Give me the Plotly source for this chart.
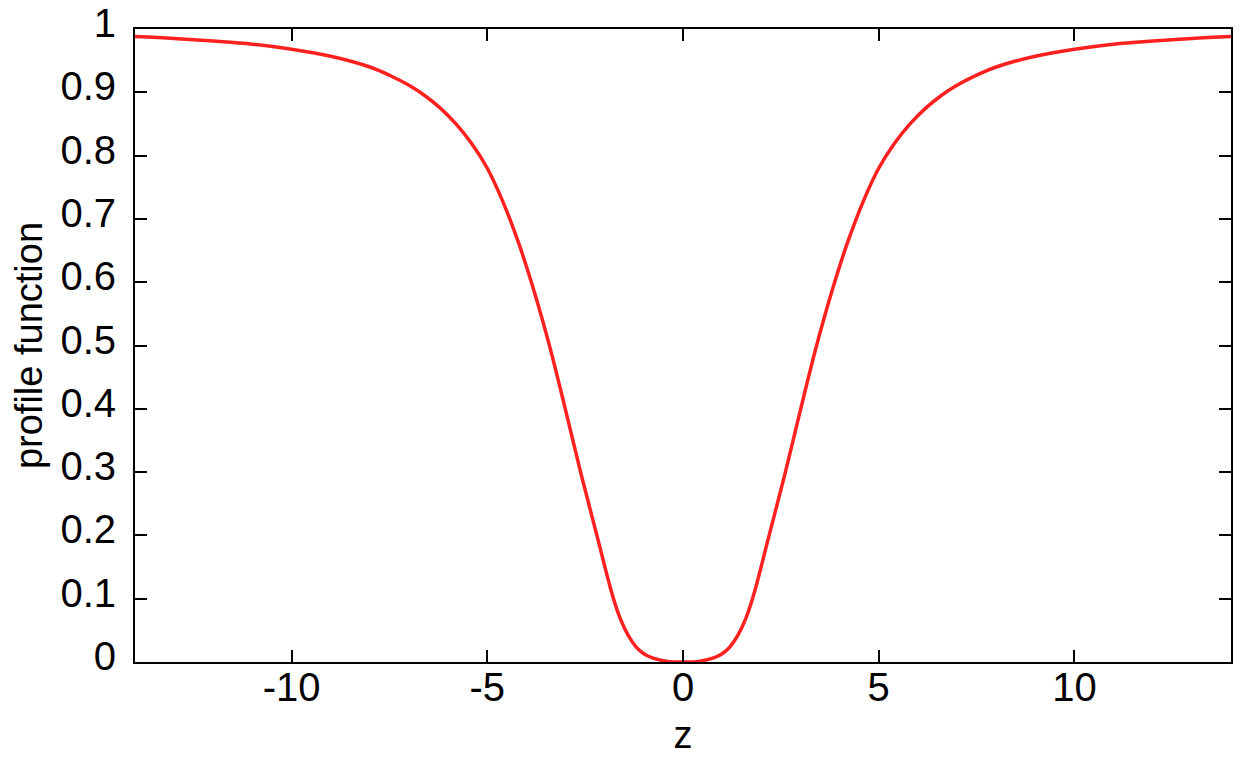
import plotly.graph_objects as go

# values (it is symmetric about z = 0)
z = [-14, -13, -12, -11, -10, -9, -8, -7.5, -7, -6.6, -6.2, -5.8, -5.4, -5, -4.6, -4.2, -3.8,
     -3.4, -3.0, -2.6, -2.2, -1.8, -1.6, -1.4, -1.2, -1.0, -0.8, -0.4, 0,
     0.4, 0.8, 1.0, 1.2, 1.4, 1.6, 1.8, 2.2, 2.6, 3.0, 3.4, 3.8, 4.2, 4.6, 5, 5.4, 5.8,
     6.2, 6.6, 7, 7.5, 8, 9, 10, 11, 12, 13, 14]
profile = [0.988, 0.985, 0.981, 0.976, 0.968, 0.957, 0.940, 0.927, 0.911, 0.895, 0.875, 0.850, 0.819, 0.780, 0.727, 0.662, 0.585,
           0.497, 0.398, 0.296, 0.200, 0.105, 0.068, 0.042, 0.024, 0.013, 0.007, 0.001, 0.000,
           0.001, 0.007, 0.013, 0.024, 0.042, 0.068, 0.105, 0.200, 0.296, 0.398, 0.497, 0.585, 0.662, 0.727, 0.780, 0.819, 0.850,
           0.875, 0.895, 0.911, 0.927, 0.940, 0.957, 0.968, 0.976, 0.981, 0.985, 0.988]

x_ticks = [-10, -5, 0, 5, 10]
x_labels = ["-10", "-5", "0", "5", "10"]
y_ticks = [0, 0.1, 0.2, 0.3, 0.4, 0.5, 0.6, 0.7, 0.8, 0.9, 1]
y_labels = ["0", "0.1", "0.2", "0.3", "0.4", "0.5", "0.6", "0.7", "0.8", "0.9", "1"]

FONT = "Liberation Sans"

fig = go.Figure()
fig.add_trace(go.Scatter(
    x=z, y=profile, mode="lines",
    line=dict(color="#ff2020", width=3.5, shape="spline", smoothing=1.0),
    hoverinfo="skip"
))

axis_style = dict(
    showline=True, linecolor="black", linewidth=2, mirror="ticks",
    ticks="inside", ticklen=12, tickwidth=2, tickcolor="black",
    showgrid=False, zeroline=False, automargin=False,
    tickfont=dict(family=FONT, size=40, color="black"),
)

fig.update_xaxes(
    range=[-14, 14], tickvals=x_ticks, ticktext=x_labels, ticklabelstandoff=-11,
    title=dict(text="z", font=dict(family=FONT, size=38, color="black"), standoff=13),
    **axis_style
)
fig.update_yaxes(
    range=[0, 1], tickvals=y_ticks, ticktext=y_labels, ticklabelstandoff=9,
    ticklabelshift=-6, ticklabeloverflow="allow",
    title=dict(text="profile function", font=dict(family=FONT, size=38, color="black"), standoff=30),
    **axis_style
)

# the page body adds an 8 px offset, so the figure is a little smaller than the window
fig.update_layout(
    width=1238, height=752,
    paper_bgcolor="white", plot_bgcolor="white",
    showlegend=False,
    margin=dict(l=127, r=15, t=21, b=98),
)

fig.write_html("out.html")
